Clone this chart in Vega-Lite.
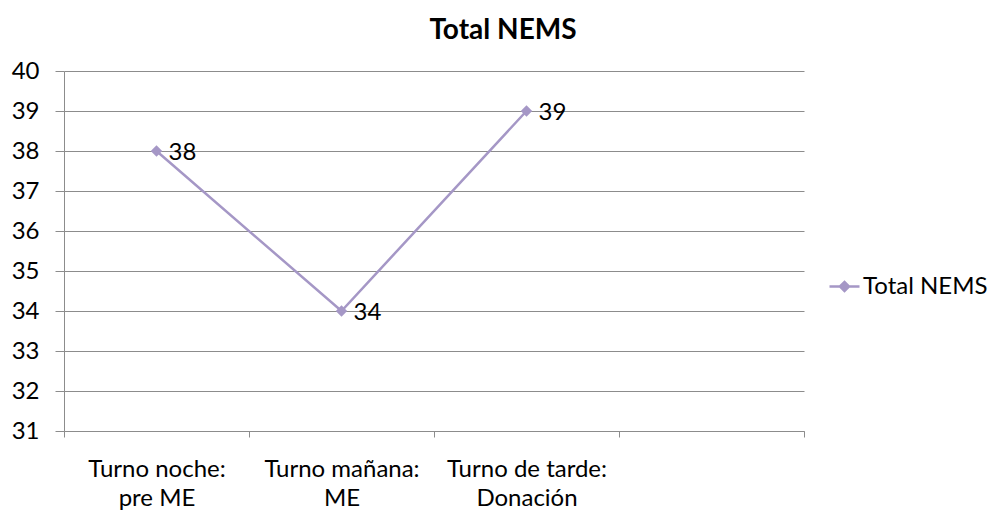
{
  "$schema": "https://vega.github.io/schema/vega-lite/v6.json",
  "autosize": {"type": "none"},
  "padding": {"left": 64, "top": 71, "right": 191, "bottom": 82},
  "width": 740,
  "height": 360,
  "background": "white",
  "config": {
    "font": "Lato",
    "view": {"stroke": null}
  },
  "title": {
    "text": "Total NEMS",
    "fontSize": 28,
    "fontWeight": "bold",
    "font": "Lato",
    "color": "#000000",
    "anchor": "middle",
    "frame": "group",
    "dx": 69,
    "baseline": "alphabetic",
    "offset": -8
  },
  "data": {
    "values": [
      {"turno": "Turno noche: pre ME", "valor": 38, "serie": "Total NEMS"},
      {"turno": "Turno mañana: ME", "valor": 34, "serie": "Total NEMS"},
      {"turno": "Turno de tarde: Donación", "valor": 39, "serie": "Total NEMS"}
    ]
  },
  "encoding": {
    "x": {
      "field": "turno",
      "type": "ordinal",
      "sort": null,
      "scale": {
        "domain": ["Turno noche: pre ME", "Turno mañana: ME", "Turno de tarde: Donación", " "],
        "paddingInner": 0,
        "paddingOuter": 0
      },
      "axis": {
        "title": null,
        "labelAngle": 0,
        "tickBand": "extent",
        "domainColor": "#8c8c8c",
        "tickColor": "#8c8c8c",
        "tickSize": 6,
        "labelPadding": 20,
        "labelFontSize": 24,
        "labelColor": "#000000",
        "labelLineHeight": 29,
        "labelBaseline": "top",
        "labelExpr": "split(replace(datum.label, ': ', ':|'), '|')",
        "grid": false
      }
    },
    "y": {
      "field": "valor",
      "type": "quantitative",
      "scale": {"domain": [31, 40], "nice": false, "zero": false},
      "axis": {
        "title": null,
        "values": [31, 32, 33, 34, 35, 36, 37, 38, 39, 40],
        "grid": true,
        "gridColor": "#8c8c8c",
        "domainColor": "#8c8c8c",
        "tickColor": "#8c8c8c",
        "tickSize": 9,
        "labelPadding": 16,
        "labelFontSize": 24,
        "labelColor": "#000000"
      }
    },
    "color": {
      "field": "serie",
      "type": "nominal",
      "scale": {"range": ["#A597C6"]},
      "legend": {
        "title": null,
        "orient": "none",
        "legendX": 764,
        "legendY": 199,
        "labelFontSize": 24,
        "labelColor": "#000000",
        "symbolType": "M-1,0H1M-0.3,0L0,-0.3L0.3,0L0,0.3Z",
        "symbolSize": 900,
        "symbolStrokeWidth": 2.5,
        "symbolStrokeColor": "#A597C6",
        "symbolFillColor": "#A597C6",
        "labelOffset": 2
      }
    }
  },
  "layer": [
    {
      "mark": {"type": "line", "strokeWidth": 2.5}
    },
    {
      "mark": {"type": "point", "shape": "diamond", "filled": true, "size": 130, "opacity": 1},
      "encoding": {"color": {"field": "serie", "type": "nominal", "legend": null}}
    },
    {
      "mark": {"type": "text", "align": "left", "baseline": "middle", "dx": 12, "dy": 2, "fontSize": 24, "color": "#000000"},
      "encoding": {
        "text": {"field": "valor", "type": "quantitative"},
        "color": {"value": "#000000"}
      }
    }
  ]
}
